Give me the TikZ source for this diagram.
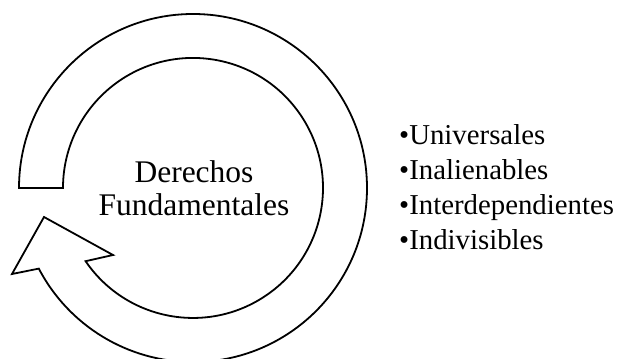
\documentclass[tikz,border=0pt]{standalone}
\usepackage{fontspec}
\setmainfont{Liberation Serif}
\begin{document}
\begin{tikzpicture}[>=stealth,x=1pt,y=1pt,
	ring/.style={draw=black,fill=white,line width=1.8pt},
	big/.style={font=\fontsize{31.5}{33}\selectfont,inner sep=0pt},
	items/.style={font=\fontsize{28.8}{35}\selectfont,inner sep=0pt}]
		\useasboundingbox (0,0) rectangle (617,358);
		\draw[ring] (19,170) arc[start angle=180,end angle=-152.4,radius=174] -- (12,84) -- (44,141) -- (113,103) -- (85.6,96.8) arc[start angle=-145.7,end angle=180,radius=130] -- cycle;
		\node[big,align=center] (derechos) at (194,170) {Derechos\\Fundamentales};
		\node[items,align=left,anchor=west] (lista) at (399,171) {\textbullet Universales\\\textbullet Inalienables\\\textbullet Interdependientes\\\textbullet Indivisibles};
		\end{tikzpicture}
\end{document}
